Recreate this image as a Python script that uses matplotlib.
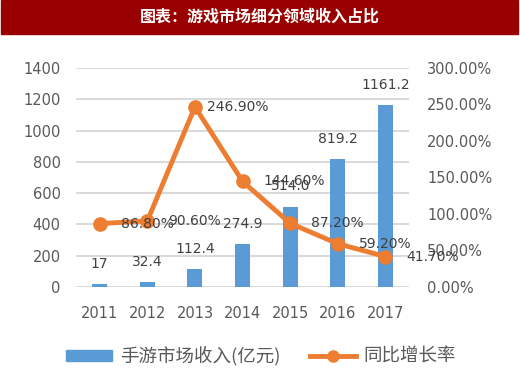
import matplotlib.pyplot as plt
from matplotlib.ticker import FuncFormatter
from matplotlib.lines import Line2D
from matplotlib.patches import Patch

plt.rcParams['font.family'] = ['DejaVu Sans', 'Noto Sans CJK SC']

years = ["2011", "2012", "2013", "2014", "2015", "2016", "2017"]
revenue = [17, 32.4, 112.4, 274.9, 514.0, 819.2, 1161.2]
revenue_labels = ["17", "32.4", "112.4", "274.9", "514.0", "819.2", "1161.2"]
growth = [86.8, 90.6, 246.9, 144.6, 87.2, 59.2, 41.7]

title = "图表：游戏市场细分领域收入占比"
bar_name = "手游市场收入(亿元)"
line_name = "同比增长率"

blue = "#5B9BD5"
orange = "#ED7D31"
txt = "#595959"
cjk = ['Noto Sans CJK SC', 'DejaVu Sans']

fig = plt.figure(figsize=(5.2, 3.73), dpi=100)

# title banner
fig.patches.append(plt.Rectangle((0.002, 0.91), 0.994, 0.09, transform=fig.transFigure,
                                 color="#990000", zorder=0))
fig.text(0.5, 0.957, title, color="white", fontsize=11.5, fontweight="bold",
         ha="center", va="center", family=cjk)

ax = fig.add_axes([0.146, 0.2306, 0.641, 0.5871])
x = list(range(len(years)))
ax.bar(x, revenue, width=0.315, color=blue, zorder=2)
ax.set_ylim(0, 1400)
ax.set_xlim(-0.5, 6.5)
ax.set_yticks(range(0, 1401, 200))
ax.set_xticks(x)
ax.set_xticklabels(years)
ax.grid(axis="y", color="#D9D9D9", lw=1.4, zorder=0)
for s in ax.spines.values():
    s.set_visible(False)
ax.tick_params(axis="y", length=0, labelsize=10.5, labelcolor=txt, pad=11)
ax.tick_params(axis="x", length=0, labelsize=10.5, labelcolor=txt, pad=14)

for xi, v, lab in zip(x, revenue, revenue_labels):
    ax.annotate(lab, (xi, v), xytext=(0, 14.5), textcoords="offset points",
                ha="center", va="center", fontsize=10, color="#404040")

ax2 = ax.twinx()
ax2.set_ylim(0, 300)
ax2.set_yticks(range(0, 301, 50))
ax2.yaxis.set_major_formatter(FuncFormatter(lambda v, p: "%.2f%%" % v))
for s in ax2.spines.values():
    s.set_visible(False)
ax2.tick_params(length=0, labelsize=10.5, labelcolor=txt, pad=13)
ax2.plot(x, growth, color=orange, lw=3.5, marker="o", markersize=9.5, zorder=3)

for i, (xi, v) in enumerate(zip(x, growth)):
    dx = 9 if i == 2 else 15
    ax2.annotate("%.2f%%" % v, (xi, v), xytext=(dx, 0), textcoords="offset points",
                 ha="left", va="center", fontsize=10, color="#404040", zorder=5)

handles = [Patch(color=blue), Line2D([0], [0], color=orange, lw=3.5, marker="o", markersize=8)]
fig.legend(handles, [bar_name, line_name], loc="center", bbox_to_anchor=(0.502, 0.045),
           ncol=2, frameon=False, labelcolor=txt, handlelength=2.5,
           columnspacing=1.6, handletextpad=0.4, handleheight=0.6,
           prop={'family': cjk, 'size': 13.3})

fig.savefig("out.png", dpi=100)
